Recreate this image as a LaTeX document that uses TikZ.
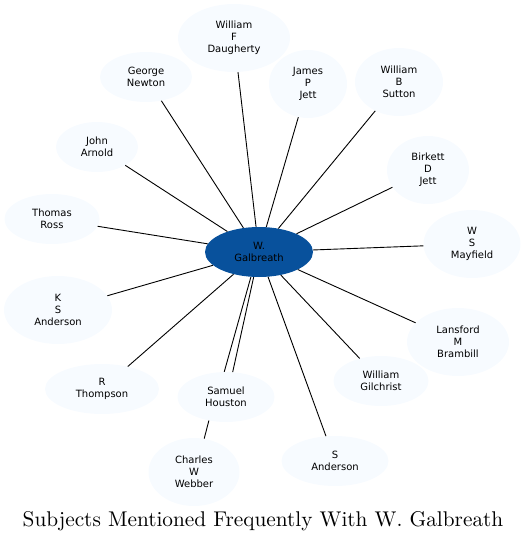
\documentclass[tikz,border=0pt]{standalone}
\usepackage{fontspec}
\newfontfamily\labelfont{DejaVu Sans}
\usetikzlibrary{shapes.geometric}

\definecolor{hubblue}{HTML}{08519C}
\definecolor{leafblue}{HTML}{F7FBFF}

\tikzset{
  leaf/.style={ellipse,fill=leafblue,inner sep=0pt,align=center,
    font=\labelfont\fontsize{10}{12}\selectfont},
  hub/.style={leaf,fill=hubblue},
  link/.style={line width=0.9pt}
}

\begin{document}
\begin{tikzpicture}[x=1pt,y=-1pt]
\useasboundingbox (0,0) rectangle (526,541);
\node[hub,minimum width=108pt,minimum height=50pt] (gal) at (259,252) {W.\\Galbreath};
% subjects: name/x/y/width/height/label
\foreach \n/\px/\py/\w/\h/\txt in {
  daugherty/234/38/112/68/{William\\F\\Daugherty},
  newton/146/77/92/50/{George\\Newton},
  pjett/308/84/78/68/{James\\P\\Jett},
  sutton/399/82/88/68/{William\\B\\Sutton},
  arnold/97/147/82/50/{John\\Arnold},
  djett/428/170/82/68/{Birkett\\D\\Jett},
  ross/52/219/95/50/{Thomas\\Ross},
  mayfield/472/244/97/68/{W\\S\\Mayfield},
  ksanderson/58/310/108/68/{K\\S\\Anderson},
  brambill/458/342/102/68/{Lansford\\M\\Brambill},
  thompson/102/389/114/50/{R\\Thompson},
  houston/226/397/97/50/{Samuel\\Houston},
  gilchrist/381/381/95/50/{William\\Gilchrist},
  webber/194/472/91/68/{Charles\\W\\Webber},
  sanderson/335/461/107/50/{S\\Anderson}}
  \node[leaf,minimum width=\w pt,minimum height=\h pt] (\n) at (\px,\py) {\txt};
\foreach \n in {daugherty,newton,pjett,sutton,arnold,djett,ross,mayfield,
  ksanderson,brambill,thompson,gilchrist,sanderson}
  \draw[link] (gal) -- (\n);
\draw[link] (gal.-108.6) -- (houston.94.6);
\draw[link] (gal.-102.9) -- (houston.75.7);
\draw[link] (houston.-126) -- (webber.73);
\node[anchor=base,scale=2.13,font=\fontsize{10}{12}\selectfont] (title) at (263,526)
  {Subjects Mentioned Frequently With W. Galbreath};
\end{tikzpicture}
\end{document}
